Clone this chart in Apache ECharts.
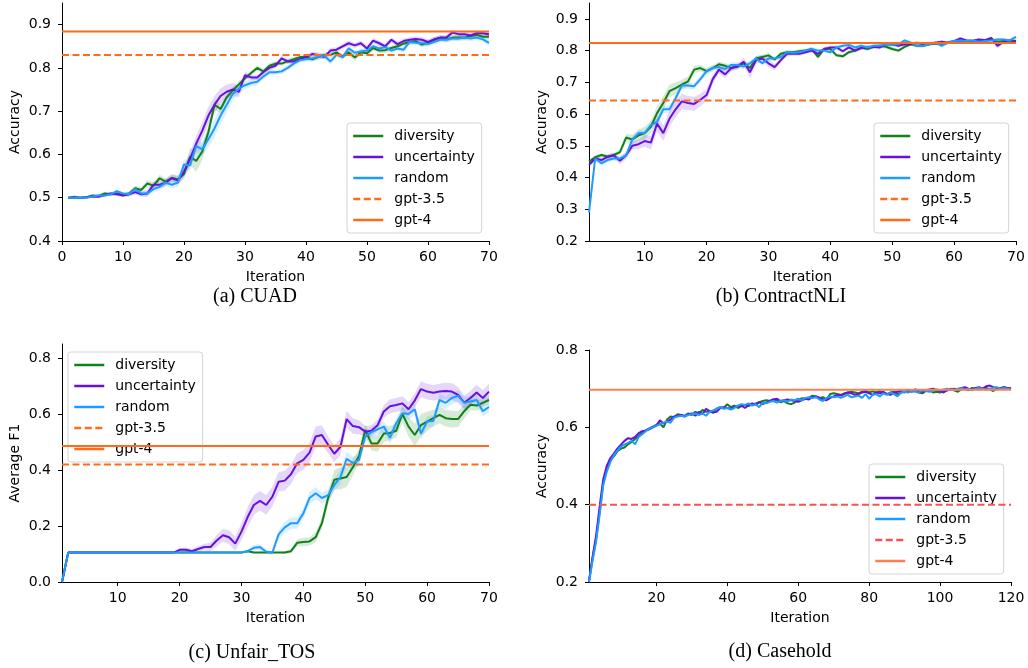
<!DOCTYPE html>
<html lang="en">
<head>
<meta charset="UTF-8">
<title>Accuracy per iteration</title>
<script src="https://cdn.jsdelivr.net/npm/echarts@6/dist/echarts.min.js"></script>
<style>html,body{margin:0;padding:0;background:#fff;}</style>
</head>
<body>
<div id="main" style="width:1028px;height:668px;"></div>
<script>
var strategies = ['diversity', 'uncertainty', 'random'];
var refNames = ['gpt-3.5', 'gpt-4'];
var captions = ['(a) CUAD', '(b) ContractNLI', '(c) Unfair_TOS', '(d) Casehold'];
var yNames = ['Accuracy', 'Accuracy', 'Average F1', 'Accuracy'];

// axis ranges and tick labels
var xMin = [0, 1, 1, 1];
var xMax = [70, 70, 70, 120];
var yMin = [0.4, 0.2, 0.0, 0.2];
var yMax = [0.95, 0.95, 0.85, 0.8];
var xTicks = [
  [0, 10, 20, 30, 40, 50, 60, 70],
  [10, 20, 30, 40, 50, 60, 70],
  [10, 20, 30, 40, 50, 60, 70],
  [20, 40, 60, 80, 100, 120]
];
var yTicks = [
  [0.4, 0.5, 0.6, 0.7, 0.8, 0.9],
  [0.2, 0.3, 0.4, 0.5, 0.6, 0.7, 0.8, 0.9],
  [0.0, 0.2, 0.4, 0.6, 0.8],
  [0.2, 0.4, 0.6, 0.8]
];

// gpt baselines per panel
var gpt35 = [0.830, 0.643, 0.420, 0.400];
var gpt4 = [0.884, 0.824, 0.486, 0.697];

// (a) CUAD
var aDiversity = [
  0.500,0.502,0.500,0.501,0.505,0.504,0.510,0.508,0.510,0.507,
  0.510,0.522,0.518,0.533,0.528,0.545,0.537,0.546,0.542,0.555,
  0.595,0.585,0.607,0.652,0.715,0.705,0.732,0.748,0.762,0.776,
  0.788,0.800,0.792,0.805,0.810,0.810,0.815,0.820,0.825,0.825,
  0.820,0.825,0.830,0.830,0.836,0.826,0.836,0.824,0.836,0.834,
  0.846,0.840,0.841,0.846,0.850,0.856,0.860,0.862,0.854,0.858,
  0.866,0.869,0.866,0.870,0.870,0.870,0.874,0.876,0.872,0.872
];
var aUncertainty = [
  0.500,0.500,0.500,0.501,0.503,0.502,0.506,0.510,0.508,0.505,
  0.508,0.513,0.508,0.510,0.530,0.530,0.535,0.545,0.540,0.560,
  0.590,0.625,0.655,0.690,0.715,0.735,0.745,0.750,0.745,0.783,
  0.778,0.778,0.790,0.800,0.805,0.822,0.815,0.815,0.820,0.825,
  0.832,0.830,0.825,0.840,0.842,0.850,0.857,0.852,0.857,0.845,
  0.863,0.857,0.850,0.865,0.855,0.862,0.865,0.867,0.865,0.860,
  0.865,0.870,0.870,0.882,0.878,0.878,0.875,0.880,0.880,0.878
];
var aRandom = [
  0.500,0.500,0.500,0.500,0.503,0.505,0.505,0.508,0.515,0.510,
  0.508,0.520,0.510,0.510,0.520,0.525,0.535,0.530,0.535,0.577,
  0.575,0.620,0.612,0.635,0.660,0.690,0.715,0.740,0.752,0.760,
  0.765,0.768,0.780,0.790,0.790,0.792,0.800,0.810,0.818,0.820,
  0.822,0.825,0.828,0.815,0.830,0.825,0.845,0.835,0.838,0.840,
  0.850,0.845,0.848,0.840,0.845,0.842,0.860,0.858,0.857,0.855,
  0.860,0.865,0.865,0.868,0.868,0.870,0.868,0.870,0.866,0.858
];
// half widths of the shaded bands
var aDiversitySpread = [
  0.001,0.002,0.002,0.002,0.003,0.003,0.004,0.004,0.004,0.004,
  0.005,0.006,0.006,0.008,0.008,0.008,0.008,0.008,0.010,0.012,
  0.020,0.025,0.020,0.015,0.012,0.010,0.008,0.008,0.008,0.006,
  0.006,0.006,0.006,0.006,0.005,0.005,0.005,0.006,0.006,0.006,
  0.006,0.006,0.006,0.006,0.006,0.006,0.007,0.008,0.007,0.007,
  0.006,0.006,0.006,0.006,0.006,0.006,0.006,0.006,0.006,0.006,
  0.006,0.006,0.006,0.006,0.006,0.006,0.006,0.006,0.006,0.006
];
var aUncertaintySpread = [
  0.001,0.002,0.002,0.002,0.003,0.003,0.004,0.004,0.004,0.004,
  0.005,0.006,0.006,0.008,0.008,0.008,0.008,0.008,0.010,0.012,
  0.015,0.018,0.020,0.020,0.020,0.018,0.016,0.015,0.012,0.008,
  0.006,0.006,0.006,0.006,0.006,0.006,0.006,0.006,0.006,0.006,
  0.006,0.006,0.006,0.006,0.006,0.006,0.006,0.006,0.006,0.006,
  0.006,0.006,0.006,0.006,0.006,0.006,0.006,0.006,0.006,0.006,
  0.006,0.006,0.006,0.006,0.006,0.006,0.006,0.006,0.006,0.006
];
var aRandomSpread = [
  0.001,0.002,0.002,0.002,0.003,0.003,0.004,0.004,0.004,0.004,
  0.005,0.006,0.006,0.006,0.008,0.008,0.008,0.008,0.010,0.012,
  0.012,0.015,0.015,0.018,0.020,0.020,0.018,0.015,0.012,0.010,
  0.008,0.008,0.006,0.006,0.006,0.006,0.006,0.006,0.006,0.006,
  0.006,0.006,0.006,0.008,0.006,0.006,0.006,0.006,0.006,0.006,
  0.006,0.006,0.006,0.006,0.006,0.006,0.006,0.006,0.006,0.006,
  0.006,0.006,0.006,0.006,0.006,0.006,0.006,0.006,0.006,0.008
];

// (b) ContractNLI
var bDiversity = [
  0.450,0.464,0.471,0.466,0.471,0.480,0.526,0.520,0.533,0.540,
  0.560,0.603,0.635,0.672,0.682,0.693,0.703,0.740,0.745,0.735,
  0.745,0.757,0.752,0.745,0.750,0.760,0.745,0.775,0.780,0.785,
  0.772,0.790,0.795,0.795,0.798,0.800,0.805,0.780,0.805,0.805,
  0.785,0.782,0.795,0.800,0.810,0.805,0.812,0.815,0.812,0.805,
  0.800,0.812,0.820,0.815,0.815,0.820,0.822,0.820,0.825,0.828,
  0.828,0.830,0.830,0.832,0.830,0.835,0.828,0.830,0.832,0.830
];
var bUncertainty = [
  0.440,0.460,0.455,0.465,0.470,0.453,0.470,0.500,0.505,0.515,
  0.510,0.570,0.540,0.585,0.615,0.640,0.635,0.632,0.645,0.660,
  0.710,0.740,0.725,0.745,0.750,0.765,0.732,0.770,0.775,0.760,
  0.748,0.770,0.790,0.790,0.790,0.795,0.800,0.790,0.805,0.810,
  0.810,0.798,0.810,0.800,0.808,0.810,0.812,0.810,0.820,0.820,
  0.815,0.820,0.820,0.825,0.820,0.822,0.825,0.828,0.825,0.830,
  0.838,0.832,0.830,0.835,0.833,0.840,0.815,0.828,0.825,0.830
];
var bRandom = [
  0.290,0.460,0.445,0.455,0.460,0.460,0.470,0.520,0.540,0.540,
  0.565,0.575,0.615,0.615,0.650,0.690,0.690,0.688,0.710,0.735,
  0.745,0.748,0.742,0.755,0.755,0.750,0.760,0.775,0.760,0.775,
  0.775,0.780,0.795,0.793,0.795,0.800,0.805,0.800,0.800,0.795,
  0.810,0.815,0.818,0.810,0.815,0.810,0.815,0.815,0.820,0.818,
  0.820,0.832,0.825,0.815,0.815,0.820,0.825,0.815,0.825,0.830,
  0.832,0.830,0.832,0.828,0.830,0.832,0.835,0.835,0.832,0.843
];
var bDiversitySpread = [
  0.006,0.006,0.006,0.006,0.006,0.008,0.012,0.015,0.018,0.020,
  0.020,0.020,0.022,0.020,0.018,0.015,0.015,0.012,0.010,0.010,
  0.010,0.008,0.008,0.008,0.008,0.008,0.008,0.008,0.008,0.008,
  0.006,0.006,0.006,0.006,0.006,0.006,0.006,0.008,0.006,0.006,
  0.006,0.006,0.006,0.006,0.006,0.006,0.006,0.006,0.006,0.006,
  0.005,0.005,0.005,0.005,0.005,0.005,0.005,0.005,0.005,0.005,
  0.005,0.005,0.005,0.005,0.005,0.005,0.005,0.005,0.005,0.005
];
var bUncertaintySpread = [
  0.008,0.008,0.008,0.008,0.008,0.010,0.012,0.012,0.015,0.018,
  0.022,0.025,0.025,0.025,0.025,0.025,0.022,0.022,0.020,0.018,
  0.015,0.012,0.012,0.010,0.010,0.012,0.020,0.012,0.010,0.012,
  0.010,0.008,0.008,0.006,0.006,0.006,0.006,0.006,0.006,0.006,
  0.006,0.006,0.006,0.006,0.006,0.006,0.006,0.006,0.006,0.006,
  0.005,0.005,0.005,0.005,0.005,0.005,0.005,0.005,0.005,0.005,
  0.005,0.005,0.005,0.005,0.005,0.005,0.008,0.005,0.005,0.005
];
var bRandomSpread = [
  0.030,0.008,0.008,0.008,0.008,0.008,0.008,0.010,0.010,0.010,
  0.010,0.010,0.012,0.012,0.012,0.012,0.010,0.010,0.010,0.008,
  0.008,0.008,0.008,0.008,0.008,0.008,0.008,0.008,0.008,0.008,
  0.006,0.006,0.006,0.006,0.006,0.006,0.006,0.006,0.006,0.006,
  0.006,0.006,0.006,0.006,0.006,0.006,0.006,0.006,0.006,0.006,
  0.005,0.005,0.005,0.005,0.005,0.005,0.005,0.005,0.005,0.005,
  0.005,0.005,0.005,0.005,0.005,0.008,0.005,0.005,0.005,0.005
];

// (c) Unfair_TOS
var cDiversity = [
  0.000,0.105,0.105,0.105,0.105,0.105,0.105,0.105,0.105,0.105,
  0.105,0.105,0.105,0.105,0.105,0.105,0.105,0.105,0.105,0.105,
  0.105,0.105,0.105,0.105,0.105,0.105,0.105,0.105,0.105,0.105,
  0.110,0.105,0.105,0.105,0.105,0.105,0.105,0.110,0.140,0.143,
  0.145,0.160,0.210,0.300,0.365,0.370,0.375,0.410,0.450,0.543,
  0.495,0.495,0.530,0.532,0.540,0.600,0.555,0.525,0.560,0.573,
  0.585,0.597,0.585,0.582,0.582,0.610,0.633,0.630,0.640,0.650
];
var cUncertainty = [
  0.000,0.105,0.105,0.105,0.105,0.105,0.105,0.105,0.105,0.105,
  0.105,0.105,0.105,0.105,0.105,0.105,0.105,0.105,0.105,0.115,
  0.115,0.110,0.118,0.125,0.125,0.148,0.167,0.160,0.137,0.180,
  0.232,0.275,0.290,0.275,0.305,0.358,0.362,0.385,0.424,0.436,
  0.462,0.520,0.525,0.490,0.458,0.483,0.582,0.557,0.553,0.537,
  0.540,0.560,0.609,0.628,0.632,0.638,0.617,0.648,0.689,0.680,
  0.676,0.680,0.682,0.680,0.668,0.641,0.657,0.677,0.657,0.680
];
var cRandom = [
  0.000,0.105,0.105,0.105,0.105,0.105,0.105,0.105,0.105,0.105,
  0.105,0.105,0.105,0.105,0.105,0.105,0.105,0.105,0.105,0.105,
  0.105,0.105,0.105,0.105,0.105,0.105,0.105,0.105,0.105,0.105,
  0.110,0.122,0.125,0.108,0.105,0.170,0.195,0.210,0.210,0.245,
  0.300,0.317,0.300,0.310,0.346,0.375,0.440,0.425,0.436,0.520,
  0.535,0.545,0.555,0.515,0.567,0.603,0.600,0.617,0.530,0.573,
  0.575,0.650,0.640,0.657,0.665,0.640,0.645,0.650,0.610,0.625
];
var cDiversitySpread = [
  0,0,0,0,0,0,0,0,0,0,
  0,0,0,0,0,0,0,0,0,0,
  0,0,0,0,0,0,0,0,0,0,
  0.003,0.003,0.003,0.003,0.003,0.003,0.005,0.008,0.012,0.015,
  0.015,0.018,0.020,0.025,0.035,0.040,0.035,0.030,0.025,0.020,
  0.025,0.030,0.030,0.025,0.025,0.030,0.035,0.040,0.040,0.035,
  0.030,0.030,0.030,0.030,0.028,0.025,0.020,0.018,0.015,0.015
];
var cUncertaintySpread = [
  0,0,0,0,0,0,0,0,0,0,
  0,0,0,0,0,0,0,0,0,0.006,
  0.008,0.008,0.010,0.012,0.015,0.020,0.022,0.025,0.025,0.030,
  0.035,0.035,0.035,0.035,0.035,0.035,0.035,0.035,0.035,0.035,
  0.035,0.035,0.035,0.030,0.030,0.030,0.030,0.028,0.025,0.020,
  0.020,0.020,0.022,0.025,0.025,0.025,0.025,0.025,0.028,0.028,
  0.028,0.028,0.030,0.030,0.028,0.025,0.025,0.028,0.028,0.028
];
var cRandomSpread = [
  0,0,0,0,0,0,0,0,0,0,
  0,0,0,0,0,0,0,0,0,0,
  0,0,0,0,0,0,0,0,0,0,
  0.005,0.010,0.010,0.008,0.006,0.015,0.020,0.020,0.020,0.020,
  0.022,0.022,0.020,0.020,0.022,0.025,0.025,0.022,0.020,0.018,
  0.018,0.018,0.020,0.020,0.020,0.020,0.020,0.020,0.020,0.020,
  0.020,0.022,0.022,0.022,0.020,0.020,0.020,0.020,0.020,0.020
];

// (d) Casehold
var dDiversity = [
  0.205,0.260,0.310,0.380,0.455,0.490,0.515,0.525,0.538,0.545,
  0.548,0.556,0.562,0.570,0.578,0.585,0.592,0.597,0.602,0.606,
  0.610,0.600,0.620,0.628,0.626,0.634,0.632,0.630,0.636,0.632,
  0.640,0.636,0.645,0.640,0.642,0.638,0.648,0.652,0.650,0.660,
  0.652,0.656,0.650,0.655,0.658,0.655,0.660,0.662,0.665,0.668,
  0.670,0.668,0.672,0.670,0.665,0.668,0.662,0.660,0.664,0.672,
  0.675,0.674,0.676,0.682,0.680,0.676,0.678,0.672,0.686,0.688,
  0.686,0.684,0.688,0.690,0.692,0.690,0.688,0.692,0.694,0.690,
  0.693,0.690,0.694,0.688,0.686,0.690,0.692,0.686,0.690,0.692,
  0.694,0.692,0.695,0.690,0.688,0.694,0.696,0.690,0.692,0.690,
  0.694,0.696,0.700,0.696,0.692,0.698,0.700,0.696,0.702,0.700,
  0.698,0.700,0.702,0.698,0.694,0.700,0.702,0.704,0.700,0.702
];
var dUncertainty = [
  0.200,0.265,0.320,0.395,0.465,0.500,0.520,0.532,0.545,0.555,
  0.565,0.572,0.570,0.575,0.585,0.590,0.592,0.595,0.600,0.605,
  0.618,0.610,0.615,0.620,0.628,0.630,0.632,0.628,0.634,0.636,
  0.630,0.640,0.634,0.648,0.642,0.638,0.640,0.650,0.652,0.650,
  0.648,0.652,0.655,0.656,0.650,0.658,0.662,0.658,0.665,0.660,
  0.664,0.668,0.672,0.674,0.668,0.670,0.672,0.670,0.668,0.666,
  0.670,0.674,0.672,0.678,0.680,0.676,0.672,0.670,0.676,0.680,
  0.684,0.682,0.686,0.690,0.688,0.684,0.686,0.690,0.692,0.688,
  0.684,0.690,0.688,0.692,0.686,0.684,0.690,0.692,0.694,0.690,
  0.696,0.694,0.698,0.694,0.692,0.696,0.698,0.700,0.696,0.694,
  0.690,0.696,0.698,0.700,0.698,0.702,0.704,0.700,0.698,0.702,
  0.704,0.700,0.706,0.708,0.704,0.702,0.700,0.704,0.702,0.700
];
var dRandom = [
  0.200,0.255,0.305,0.375,0.450,0.485,0.510,0.528,0.540,0.550,
  0.555,0.560,0.565,0.556,0.575,0.582,0.590,0.596,0.600,0.604,
  0.608,0.612,0.615,0.612,0.625,0.628,0.630,0.628,0.632,0.634,
  0.636,0.632,0.636,0.630,0.640,0.644,0.648,0.652,0.648,0.650,
  0.646,0.650,0.656,0.660,0.658,0.662,0.656,0.660,0.652,0.664,
  0.662,0.666,0.668,0.664,0.668,0.670,0.666,0.672,0.670,0.674,
  0.670,0.676,0.678,0.676,0.678,0.672,0.668,0.676,0.680,0.678,
  0.680,0.676,0.680,0.684,0.678,0.680,0.682,0.676,0.686,0.674,
  0.684,0.686,0.680,0.688,0.684,0.690,0.686,0.680,0.690,0.692,
  0.690,0.694,0.692,0.690,0.696,0.694,0.692,0.696,0.698,0.696,
  0.698,0.700,0.698,0.696,0.700,0.702,0.698,0.700,0.696,0.700,
  0.702,0.700,0.698,0.700,0.702,0.704,0.700,0.702,0.700,0.698
];

var panelLines = [
  [aDiversity, aUncertainty, aRandom],
  [bDiversity, bUncertainty, bRandom],
  [cDiversity, cUncertainty, cRandom],
  [dDiversity, dUncertainty, dRandom]
];
var panelSpreads = [
  [aDiversitySpread, aUncertaintySpread, aRandomSpread],
  [bDiversitySpread, bUncertaintySpread, bRandomSpread],
  [cDiversitySpread, cUncertaintySpread, cRandomSpread],
  null
];

var lineColors = ['#12801a', '#6611dd', '#1e9bff'];
var refColors = [
  ['#ff6b1a', '#ff6b1a'],
  ['#ff6b1a', '#ff6b1a'],
  ['#ff6b1a', '#ff6b1a'],
  ['#ff4f4f', '#ff7f50']
];
var grids = [
  {left: 62, top: 3, width: 427, height: 238},
  {left: 589, top: 3, width: 427, height: 238},
  {left: 62, top: 344, width: 427, height: 238},
  {left: 589, top: 350, width: 422, height: 232}
];
var legendPos = [
  {left: 347, top: 123},
  {left: 874, top: 123},
  {left: 68, top: 352},
  {left: 869, top: 464}
];
var captionPos = [[255, 297], [781, 297], [252, 653], [780, 652]];
var keys = ['a', 'b', 'c', 'd'];

var font = 'DejaVu Sans';
var xAxes = [], yAxes = [], series = [], legends = [], graphics = [];

// filled band between lower and upper values, drawn through the axis coordinates
function bandSeries(p, color, vals, spread) {
  var pts = vals.map(function (v, i) { return [i + 1, v - spread[i], v + spread[i]]; });
  return {
    type: 'custom', xAxisIndex: p, yAxisIndex: p, silent: true, clip: true, z: 1,
    data: pts,
    renderItem: function (params, api) {
      if (params.dataIndex !== 0) return null;
      var upper = [], lower = [];
      for (var i = 0; i < pts.length; i++) {
        upper.push(api.coord([pts[i][0], pts[i][2]]));
        lower.unshift(api.coord([pts[i][0], pts[i][1]]));
      }
      return {
        type: 'polygon',
        shape: {points: upper.concat(lower)},
        style: {fill: color, opacity: 0.17}
      };
    }
  };
}

for (var p = 0; p < 4; p++) {
  xAxes.push({
    type: 'value', gridIndex: p, min: xMin[p], max: xMax[p],
    name: 'Iteration', nameLocation: 'middle', nameGap: 29,
    nameTextStyle: {fontFamily: font, fontSize: 14, color: '#000'},
    axisLine: {lineStyle: {color: '#000', width: 1}},
    axisTick: {length: 4, lineStyle: {color: '#000'}, customValues: xTicks[p]},
    axisLabel: {fontFamily: font, fontSize: 14, color: '#000', margin: 9, customValues: xTicks[p]},
    splitLine: {show: false}
  });
  yAxes.push({
    type: 'value', gridIndex: p, min: yMin[p], max: yMax[p],
    name: yNames[p], nameLocation: 'middle', nameGap: 40,
    nameTextStyle: {fontFamily: font, fontSize: 14, color: '#000'},
    axisLine: {show: true, lineStyle: {color: '#000', width: 1}},
    axisTick: {show: true, length: 4, lineStyle: {color: '#000'}, customValues: yTicks[p]},
    axisLabel: {fontFamily: font, fontSize: 14, color: '#000', margin: 11, customValues: yTicks[p],
      formatter: function (v) { return v.toFixed(1); }},
    splitLine: {show: false}
  });

  if (panelSpreads[p]) {
    for (var s = 0; s < 3; s++) {
      series.push(bandSeries(p, lineColors[s], panelLines[p][s], panelSpreads[p][s]));
    }
  }
  var legendData = [];
  for (var s = 0; s < 3; s++) {
    var nm = keys[p] + ':' + strategies[s];
    legendData.push(nm);
    series.push({
      name: nm, type: 'line', xAxisIndex: p, yAxisIndex: p,
      data: panelLines[p][s].map(function (v, i) { return [i + 1, v]; }),
      symbol: 'none', color: lineColors[s], lineStyle: {width: 2}, z: 3
    });
  }
  var refs = [gpt35[p], gpt4[p]];
  for (var r = 0; r < 2; r++) {
    var nm = keys[p] + ':' + refNames[r];
    legendData.push(nm);
    series.push({
      name: nm, type: 'line', xAxisIndex: p, yAxisIndex: p,
      data: [[xMin[p], refs[r]], [xMax[p], refs[r]]],
      symbol: 'none', color: refColors[p][r], z: 4,
      lineStyle: {width: 2, type: r === 0 ? [7, 3.5] : 'solid'}
    });
  }
  legends.push({
    left: legendPos[p].left, top: legendPos[p].top, orient: 'vertical',
    data: legendData, selectedMode: false,
    itemWidth: 30, itemHeight: 14, itemGap: 5,
    itemStyle: {opacity: 0},
    lineStyle: {width: 2.5},
    padding: [5, 7, 5, 5],
    backgroundColor: 'rgba(255,255,255,0.8)', borderColor: '#d4d4d4', borderWidth: 1, borderRadius: 3,
    textStyle: {fontFamily: font, fontSize: 14, lineHeight: 16, color: '#000', padding: [0, 0, 0, 6]},
    formatter: function (name) { return name.split(':')[1]; }
  });
  graphics.push({
    type: 'text', x: captionPos[p][0], y: captionPos[p][1],
    style: {text: captions[p], fontFamily: 'Liberation Serif', fontSize: 20, fill: '#000',
      align: 'center', verticalAlign: 'middle'}
  });
}

var myChart = echarts.init(document.getElementById('main'));
myChart.setOption({
  animation: false,
  backgroundColor: '#fff',
  grid: grids,
  xAxis: xAxes,
  yAxis: yAxes,
  legend: legends,
  graphic: graphics,
  series: series
});
</script>
</body>
</html>
